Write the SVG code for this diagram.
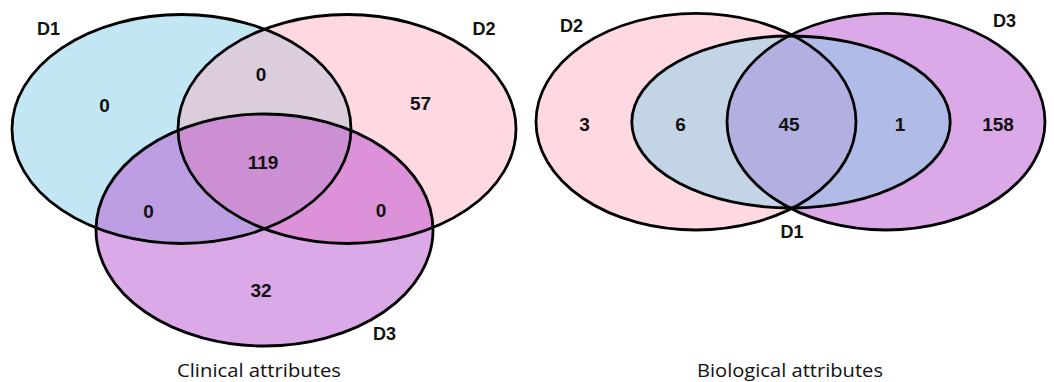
<svg xmlns="http://www.w3.org/2000/svg" xmlns:xlink="http://www.w3.org/1999/xlink" width="1054" height="382" viewBox="0 0 1054 382">
<style>
.num{font-family:"Liberation Sans",Arial,sans-serif;font-weight:bold;font-size:19px;fill:#111;text-anchor:middle}
.lbl{font-family:"Liberation Sans",Arial,sans-serif;font-weight:bold;font-size:18px;fill:#111;text-anchor:middle}
.ttl{font-family:"Open Sans","Noto Sans",sans-serif;font-size:18px;fill:#111;text-anchor:middle}
.edge{fill:none;stroke:#000;stroke-width:2.8}
</style>
<defs>
<ellipse id="L1" cx="181.5" cy="129" rx="169.5" ry="114.5"/>
<ellipse id="L2" cx="347" cy="129" rx="169" ry="114.5"/>
<ellipse id="L3" cx="264.5" cy="230" rx="168.5" ry="116"/>
<ellipse id="R2" cx="696" cy="121.7" rx="160" ry="108.3"/>
<ellipse id="R3" cx="886" cy="121.7" rx="159" ry="108.3"/>
<ellipse id="R1" cx="791" cy="122" rx="159.2" ry="86"/>
<clipPath id="cL1"><use xlink:href="#L1"/></clipPath>
<clipPath id="cL2"><use xlink:href="#L2"/></clipPath>
<clipPath id="cL3"><use xlink:href="#L3"/></clipPath>
<clipPath id="cR1"><use xlink:href="#R1"/></clipPath>
<clipPath id="cR2"><use xlink:href="#R2"/></clipPath>
<clipPath id="cR3"><use xlink:href="#R3"/></clipPath>
</defs>
<rect width="1054" height="382" fill="#fff"/>

<g id="clinical">
  <g id="clinical-D1"><use xlink:href="#L1" fill="#c3e6f4"/></g>
  <g id="clinical-D2"><use xlink:href="#L2" fill="#ffd9e2"/></g>
  <g id="clinical-D3"><use xlink:href="#L3" fill="#dba8e8"/></g>
  <g id="clinical-overlaps">
    <g clip-path="url(#cL1)"><use xlink:href="#L2" fill="#dccddc"/></g>
    <g clip-path="url(#cL1)"><use xlink:href="#L3" fill="#bd9ee2"/></g>
    <g clip-path="url(#cL2)"><use xlink:href="#L3" fill="#dc91d8"/></g>
    <g clip-path="url(#cL1)"><g clip-path="url(#cL2)"><use xlink:href="#L3" fill="#cc8fd4"/></g></g>
  </g>
  <g id="clinical-outlines">
    <use xlink:href="#L1" class="edge"/>
    <use xlink:href="#L2" class="edge"/>
    <use xlink:href="#L3" class="edge"/>
  </g>
  <g id="clinical-text">
    <text class="lbl" x="48.5" y="35">D1</text>
    <text class="lbl" x="484" y="35">D2</text>
    <text class="lbl" x="384.5" y="340">D3</text>
    <text class="num" x="104.5" y="112">0</text>
    <text class="num" x="261" y="81">0</text>
    <text class="num" x="420.5" y="110">57</text>
    <text class="num" x="263" y="169">119</text>
    <text class="num" x="148.5" y="218">0</text>
    <text class="num" x="381" y="217">0</text>
    <text class="num" x="261" y="297">32</text>
    <text class="ttl" x="259" y="377" textLength="164" lengthAdjust="spacingAndGlyphs">Clinical attributes</text>
  </g>
</g>

<g id="biological">
  <g id="bio-D2"><use xlink:href="#R2" fill="#ffd9e2"/></g>
  <g id="bio-D3"><use xlink:href="#R3" fill="#dba8e8"/></g>
  <g id="bio-D1">
    <g clip-path="url(#cR2)"><use xlink:href="#R3" fill="#b1b0e0"/></g>
    <g clip-path="url(#cR2)"><use xlink:href="#R1" fill="#c2d4e6"/></g>
    <g clip-path="url(#cR3)"><use xlink:href="#R1" fill="#b0bbe8"/></g>
    <g clip-path="url(#cR2)"><g clip-path="url(#cR3)"><use xlink:href="#R1" fill="#b1b0e0"/></g></g>
  </g>
  <g id="bio-outlines">
    <use xlink:href="#R2" class="edge"/>
    <use xlink:href="#R3" class="edge"/>
    <use xlink:href="#R1" class="edge"/>
  </g>
  <g id="bio-text">
    <text class="lbl" x="571.5" y="32">D2</text>
    <text class="lbl" x="1004.5" y="27">D3</text>
    <text class="lbl" x="792" y="238">D1</text>
    <text class="num" x="584.5" y="131">3</text>
    <text class="num" x="680.5" y="131">6</text>
    <text class="num" x="789" y="131">45</text>
    <text class="num" x="900" y="131">1</text>
    <text class="num" x="998" y="131">158</text>
    <text class="ttl" x="790" y="377" textLength="186" lengthAdjust="spacingAndGlyphs">Biological attributes</text>
  </g>
</g>
</svg>
